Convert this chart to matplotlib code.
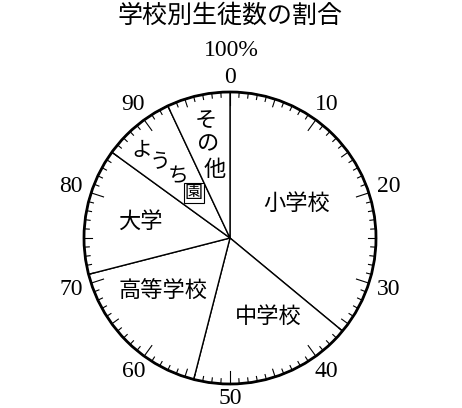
import numpy as np
import matplotlib
matplotlib.use('Agg')
import matplotlib.pyplot as plt
from matplotlib.patches import Circle

plt.rcParams['font.family'] = ['Noto Sans CJK JP', 'DejaVu Sans']

title = '学校別生徒数の割合'
categories = ['小学校', '中学校', '高等学校', '大学', 'ようち園', 'その他']
shares = [36, 18, 17, 14, 8, 7]
scale_labels = [0, 10, 20, 30, 40, 50, 60, 70, 80, 90]

# figure is 462x408 px, centre of the dial at (230, 238) px, radius 146 px
W, H = 462, 408
cx, cy, rpx = 230, 238, 146
fig = plt.figure(figsize=(W / 100, H / 100), dpi=100)
ax = fig.add_axes([0, 0, 1, 1])

ax.pie(shares, startangle=90, counterclock=False, radius=1,
       colors=['white'] * len(shares),
       wedgeprops=dict(edgecolor='black', linewidth=1))
ax.set_xlim(-cx / rpx, (W - cx) / rpx)
ax.set_ylim(-(H - cy) / rpx, cy / rpx)
ax.set_aspect('auto')
ax.axis('off')
ax.add_patch(Circle((0, 0), 1, fill=False, lw=2, color='black', zorder=5))

# tick marks every 1 %
for p in range(100):
    th = np.pi / 2 - 2 * np.pi * p / 100
    if p % 10 == 0:
        ln = 13
    elif p % 5 == 0:
        ln = 8
    else:
        ln = 5
    r0 = 1 - ln / rpx
    ax.plot([r0 * np.cos(th), np.cos(th)], [r0 * np.sin(th), np.sin(th)],
            color='black', lw=0.8, zorder=4)

serif = 'Liberation Serif'
for v in scale_labels:
    th = np.pi / 2 - 2 * np.pi * v / 100
    r = 1.10 + 0.045 * abs(np.cos(th))
    ax.text(r * np.cos(th), r * np.sin(th), str(v), ha='center', va='center',
            fontsize=17, family=serif)
ax.text(1 / rpx, (cy - 50) / rpx, '100%', ha='center', va='center',
        fontsize=17, family=serif)

def px(x, y):
    return (x - cx) / rpx, (cy - y) / rpx

lab_pos = {'小学校': (297, 203), '中学校': (268, 316),
           '高等学校': (163, 291), '大学': (140, 221)}
for name in categories[:4]:
    x, y = px(*lab_pos[name])
    ax.text(x, y, name, ha='center', va='center', fontsize=16)

# ようち園 along the slice, 園 boxed
for ch, pos in zip('ようち', [(142, 150), (160, 162), (178, 176)]):
    x, y = px(*pos)
    ax.text(x, y, ch, ha='center', va='center', fontsize=15)
x, y = px(194, 193)
ax.text(x, y, '園', ha='center', va='center', fontsize=13,
        bbox=dict(boxstyle='square,pad=0.08', fc='white', ec='black', lw=0.8))

for ch, pos in zip('その他', [(206, 121), (208, 144), (215, 169)]):
    x, y = px(*pos)
    ax.text(x, y, ch, ha='center', va='center', fontsize=16)

fig.text(cx / W, 1 - 16 / H, title, ha='center', va='center', fontsize=18)

fig.savefig('out.png', dpi=100)
